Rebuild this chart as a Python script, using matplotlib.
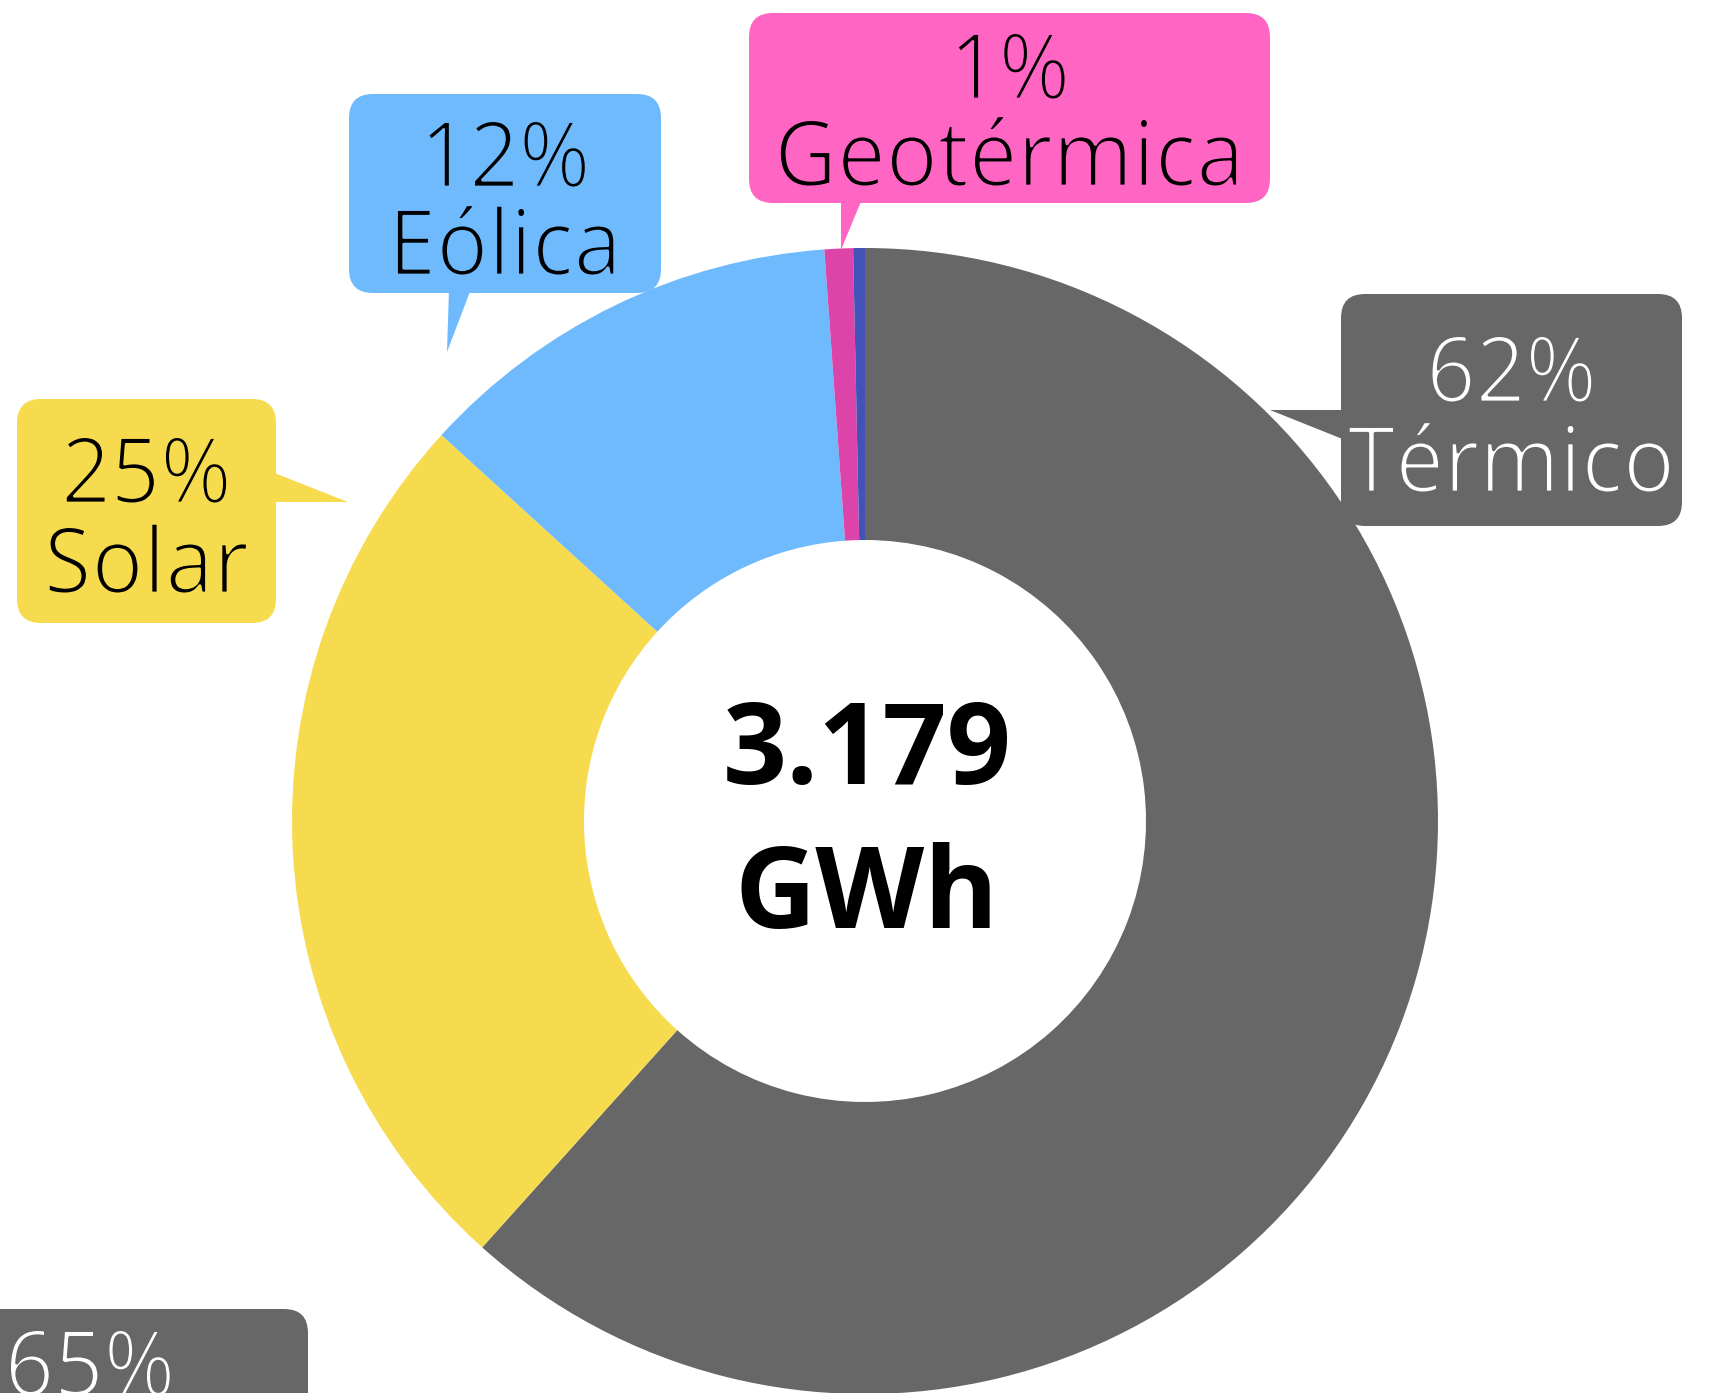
import matplotlib
matplotlib.use("Agg")
import matplotlib.pyplot as plt
import matplotlib.patheffects as pe
from matplotlib.patches import FancyBboxPatch, Polygon
from matplotlib.path import Path
from matplotlib.transforms import Affine2D

# data (share of generation, %)
fuentes = ["Térmico", "Solar", "Eólica", "Geotérmica", "Otra"]
valores = [61.6, 25.1, 12.1, 0.8, 0.33]
colores = ["#676767", "#F7DB4F", "#6FBAFD", "#DD44AA", "#4252B6"]
total_txt = ["3.179", "GWh"]
extra_pct = "65%"

W, H = 1717, 1393

def Y(y):
    # image coords (y down) -> axes coords (y up)
    return H - y

class LightLook(pe.AbstractPathEffect):
    # only the regular Open Sans cut is installed: narrow the glyphs a bit and
    # eat into their edge with the background colour so they read as Light
    def __init__(self, bg, sx=0.945, lw=2.0):
        super().__init__()
        self.bg, self.sx, self.lw = bg, sx, lw

    def draw_path(self, renderer, gc, tpath, affine, rgbFace=None):
        v = tpath.vertices
        if tpath.codes is not None:
            v = v[tpath.codes != Path.CLOSEPOLY]
        xc = (v[:, 0].min() + v[:, 0].max()) / 2
        aff = Affine2D().translate(-xc, 0).scale(self.sx, 1).translate(xc, 0) + affine
        renderer.draw_path(gc, tpath, aff, rgbFace)
        gc0 = renderer.new_gc()
        gc0.copy_properties(gc)
        gc0.set_linewidth(self.lw)
        gc0.set_foreground(self.bg)
        renderer.draw_path(gc0, tpath, aff, None)
        gc0.restore()

fig = plt.figure(figsize=(W / 100, H / 100), dpi=100)
ax = fig.add_axes([0, 0, 1, 1])

cx, cy, r = 865, 821, 573
ax.pie(valores, colors=colores, startangle=90, counterclock=False,
       radius=r, center=(cx, Y(cy)),
       wedgeprops=dict(width=r - 281, linewidth=0))

ax.set_xlim(0, W)
ax.set_ylim(0, H)
ax.set_aspect("equal")
ax.axis("off")

# callout boxes: (x0, y0, x1, y1) box, pointer triangle, text colour, baselines
callouts = {
    "Térmico": dict(box=(1341, 294, 1682, 526), ptr=[(1270, 410), (1345, 410), (1345, 440)],
                    fc="#676767", tc="white", base=(402, 492)),
    "Solar": dict(box=(17, 399, 276, 623), ptr=[(272, 472), (348, 502), (272, 502)],
                  fc="#F7DB4F", tc="black", base=(503, 593)),
    "Eólica": dict(box=(349, 94, 661, 293), ptr=[(449, 289), (471, 289), (447, 352)],
                   fc="#6FBAFD", tc="black", base=(187, 275)),
    "Geotérmica": dict(box=(749, 13, 1270, 203), ptr=[(841, 199), (862, 199), (841, 250)],
                       fc="#FF66C4", tc="black", base=(99, 186)),
}

fnt = dict(family="Open Sans", fontsize=66)

for name, val in zip(fuentes, valores):
    if name not in callouts:
        continue
    c = callouts[name]
    x0, y0, x1, y1 = c["box"]
    ax.add_patch(FancyBboxPatch((x0, Y(y1)), x1 - x0, y1 - y0,
                                boxstyle="round,pad=0,rounding_size=24",
                                fc=c["fc"], ec="none", zorder=3))
    ax.add_patch(Polygon([(px, Y(py)) for px, py in c["ptr"]],
                         closed=True, fc=c["fc"], ec="none", zorder=3))
    xm = (x0 + x1) / 2
    ax.text(xm, Y(c["base"][0]), f"{val:.0f}%", color=c["tc"], ha="center",
            va="baseline", zorder=4, path_effects=[LightLook(c["fc"])], **fnt)
    ax.text(xm, Y(c["base"][1]), name, color=c["tc"], ha="center",
            va="baseline", zorder=4, path_effects=[LightLook(c["fc"])], **fnt)

# cut-off label at the bottom left
ax.add_patch(FancyBboxPatch((-150, Y(1450)), 458, 1450 - 1309,
                            boxstyle="round,pad=0,rounding_size=24",
                            fc="#676767", ec="none", zorder=3, clip_on=False))
ax.text(90, Y(1396), extra_pct, color="white", ha="center", va="baseline",
        zorder=4, path_effects=[LightLook("#676767")], **fnt)

# total in the middle
ax.text(867, Y(784), total_txt[0], ha="center", va="baseline",
        family="Open Sans", fontweight="bold", fontsize=81, color="black")
ax.text(867, Y(928), total_txt[1], ha="center", va="baseline",
        family="Open Sans", fontweight="bold", fontsize=81, color="black")

fig.savefig("out.png", dpi=100)
